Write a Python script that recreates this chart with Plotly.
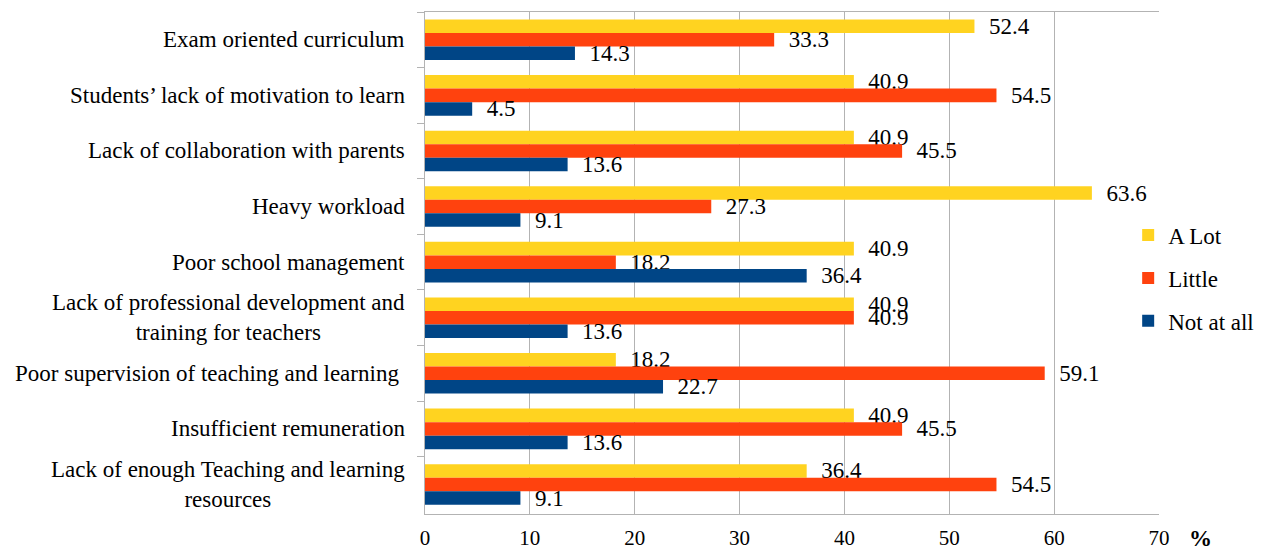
import plotly.graph_objects as go

categories = [
    "Exam oriented curriculum",
    "Students’ lack of motivation to learn",
    "Lack of collaboration with parents",
    "Heavy workload",
    "Poor school management",
    "Lack of professional development and<br>training for teachers",
    "Poor supervision of teaching and learning ",
    "Insufficient remuneration",
    "Lack of enough Teaching and learning<br>resources",
]
a_lot = [52.4, 40.9, 40.9, 63.6, 40.9, 40.9, 18.2, 40.9, 36.4]
little = [33.3, 54.5, 45.5, 27.3, 18.2, 40.9, 59.1, 45.5, 54.5]
not_at_all = [14.3, 4.5, 13.6, 9.1, 36.4, 13.6, 22.7, 13.6, 9.1]
x_ticks = [0, 10, 20, 30, 40, 50, 60, 70]

series = [
    ("A Lot", a_lot, "#FFD320"),
    ("Little", little, "#FF420E"),
    ("Not at all", not_at_all, "#004586"),
]

FONT = "Liberation Serif"
FS = 23

fig = go.Figure()
for name, vals, color in series:
    fig.add_trace(go.Bar(
        y=categories, x=vals, name=name, orientation="h",
        marker=dict(color=color, line=dict(width=0)),
        texttemplate="\u2002%{x:.1f}", textposition="outside",
        constraintext="none",
        textfont=dict(family=FONT, size=FS, color="#000000"),
        cliponaxis=False, legendgroup=name,
    ))

# category names to the left of the axis, wrapped lines centred on each other
for c in categories:
    fig.add_annotation(
        x=0, xref="paper", y=c, yref="y", text=c, showarrow=False,
        xanchor="right", yanchor="middle", align="center", xshift=-18,
        font=dict(family=FONT, size=FS, color="#000000"),
    )

fig.add_annotation(
    x=1, xref="paper", y=0, yref="paper", text="<b>%</b>", showarrow=False,
    xanchor="left", yanchor="top", xshift=28, yshift=-10,
    font=dict(family=FONT, size=FS, color="#000000"),
)

fig.update_layout(
    width=1271, height=550,
    margin=dict(l=425, r=108, t=12, b=36),
    paper_bgcolor="white", plot_bgcolor="white",
    barmode="group", bargap=0.27, bargroupgap=0,
    showlegend=True,
    legend=dict(
        x=0.958, y=0.47, xanchor="left", yanchor="middle",
        font=dict(family=FONT, size=FS, color="#000000"),
        bgcolor="rgba(0,0,0,0)", tracegroupgap=10, itemwidth=30,
        traceorder="grouped",
    ),
    font=dict(family=FONT, size=FS, color="#000000"),
)
fig.update_xaxes(
    range=[0, 70], tickvals=x_ticks, showgrid=True, gridcolor="#b3b3b3",
    gridwidth=1, showline=True, linecolor="#b3b3b3", mirror=True,
    zeroline=False, ticks="", ticklabelstandoff=5, automargin=False,
    tickfont=dict(family=FONT, size=21, color="#000000"),
)
fig.update_yaxes(
    autorange="reversed", showticklabels=False, showline=True,
    linecolor="#b3b3b3", ticks="outside", tickson="boundaries",
    ticklen=7, tickcolor="#b3b3b3", showgrid=False, automargin=False,
)

fig.write_html("out.html")
